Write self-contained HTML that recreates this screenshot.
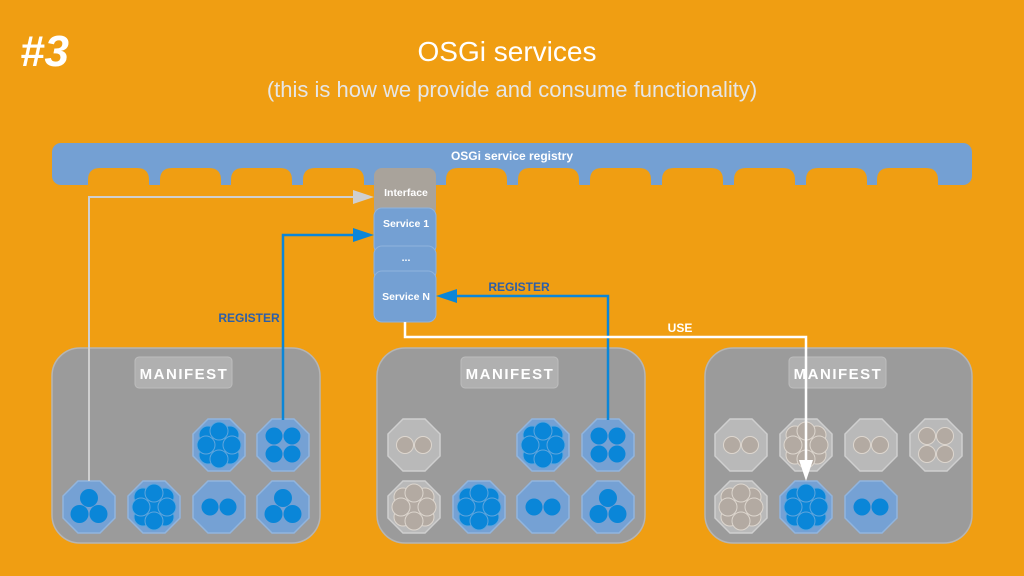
<!DOCTYPE html>
<html><head><meta charset="utf-8"><style>
html,body{margin:0;padding:0;background:#F09E12;}
svg{display:block;}
text{font-family:"Liberation Sans",sans-serif;}
</style></head><body>
<svg width="1024" height="576" viewBox="0 0 1024 576" xmlns="http://www.w3.org/2000/svg">
<defs>
<polygon id="oct" points="-11,-26 11,-26 26,-11 26,11 11,26 -11,26 -26,11 -26,-11"/>
<g id="ob"><use href="#oct" fill="#75A1D4" stroke="#92B5DE" stroke-width="1.5"/></g>
<g id="og"><use href="#oct" fill="#B9B9B9" stroke="#CFCFCF" stroke-width="1.5"/></g>
<g id="d2"><circle cx="-9" cy="0" r="8.5"/><circle cx="9" cy="0" r="8.5"/></g>
<g id="d3"><circle cx="0" cy="-9" r="9"/><circle cx="-9.5" cy="7" r="9"/><circle cx="9.5" cy="7" r="9"/></g>
<g id="d4"><circle cx="-9" cy="-9" r="8.5"/><circle cx="9" cy="-9" r="8.5"/><circle cx="-9" cy="9" r="8.5"/><circle cx="9" cy="9" r="8.5"/></g>
<g id="dc"><circle cx="-11" cy="-10" r="9"/><circle cx="11" cy="-10" r="9"/><circle cx="-11" cy="10" r="9"/><circle cx="11" cy="10" r="9"/><circle cx="0" cy="0" r="9"/><circle cx="-13" cy="0" r="9"/><circle cx="13" cy="0" r="9"/><circle cx="0" cy="-14" r="9"/><circle cx="0" cy="14" r="9"/></g>
</defs>

<text x="20" y="66" font-size="44" font-weight="bold" font-style="italic" fill="#fff">#3</text>
<text x="507" y="61" font-size="28" fill="#fff" text-anchor="middle">OSGi services</text>
<text x="512" y="97" font-size="22" fill="#E6E6E6" text-anchor="middle">(this is how we provide and consume functionality)</text>

<rect x="52" y="143" width="920" height="42" rx="9" fill="#74A0D3"/>
<g fill="#F09E12">
<path d="M88,185 V180 Q88,168 100,168 H137 Q149,168 149,180 V185Z"/>
<path d="M160,185 V180 Q160,168 172,168 H209 Q221,168 221,180 V185Z"/>
<path d="M231,185 V180 Q231,168 243,168 H280 Q292,168 292,180 V185Z"/>
<path d="M303,185 V180 Q303,168 315,168 H352 Q364,168 364,180 V185Z"/>
<path d="M446,185 V180 Q446,168 458,168 H495 Q507,168 507,180 V185Z"/>
<path d="M518,185 V180 Q518,168 530,168 H567 Q579,168 579,180 V185Z"/>
<path d="M590,185 V180 Q590,168 602,168 H639 Q651,168 651,180 V185Z"/>
<path d="M662,185 V180 Q662,168 674,168 H711 Q723,168 723,180 V185Z"/>
<path d="M734,185 V180 Q734,168 746,168 H783 Q795,168 795,180 V185Z"/>
<path d="M806,185 V180 Q806,168 818,168 H855 Q867,168 867,180 V185Z"/>
<path d="M877,185 V180 Q877,168 889,168 H926 Q938,168 938,180 V185Z"/>
</g>
<text x="512" y="160" font-size="12" font-weight="bold" fill="#fff" text-anchor="middle">OSGi service registry</text>

<rect x="374" y="168" width="62" height="48" rx="8" fill="#A9A39B"/>
<rect x="374" y="208" width="62" height="46" rx="8" fill="#74A0D3" stroke="#8FB3DD"/>
<rect x="374" y="246" width="62" height="34" rx="8" fill="#74A0D3" stroke="#8FB3DD"/>
<rect x="374" y="271" width="62" height="51" rx="8" fill="#74A0D3" stroke="#8FB3DD"/>
<g font-size="10.5" fill="#fff" text-anchor="middle" font-weight="bold">
<text x="406" y="196">Interface</text>
<text x="406" y="227">Service 1</text>
<text x="406" y="261">...</text>
<text x="406" y="300">Service N</text>
</g>

<g fill="#9B9B9B" stroke="#B5B5B5" stroke-width="1.5">
<rect x="52" y="348" width="268" height="195" rx="28"/>
<rect x="377" y="348" width="268" height="195" rx="28"/>
<rect x="705" y="348" width="267" height="195" rx="28"/>
</g>
<g fill="#B0B0B0" stroke="#BDBDBD">
<rect x="135" y="357" width="97" height="31" rx="4"/>
<rect x="461" y="357" width="97" height="31" rx="4"/>
<rect x="789" y="357" width="97" height="31" rx="4"/>
</g>
<g font-size="15" font-weight="bold" fill="#fff" text-anchor="middle" letter-spacing="1.5">
<text x="184" y="379">MANIFEST</text>
<text x="510" y="379">MANIFEST</text>
<text x="838" y="379">MANIFEST</text>
</g>

<g transform="translate(219,445)"><use href="#ob"/><use href="#dc" fill="#0A86D8" stroke="#5FA5DD"/></g>
<g transform="translate(283,445)"><use href="#ob"/><use href="#d4" fill="#0A86D8"/></g>
<g transform="translate(89,507)"><use href="#ob"/><use href="#d3" fill="#0A86D8"/></g>
<g transform="translate(154,507)"><use href="#ob"/><use href="#dc" fill="#0A86D8" stroke="#5FA5DD"/></g>
<g transform="translate(219,507)"><use href="#ob"/><use href="#d2" fill="#0A86D8"/></g>
<g transform="translate(283,507)"><use href="#ob"/><use href="#d3" fill="#0A86D8"/></g>

<g transform="translate(414,445)"><use href="#og"/><use href="#d2" fill="#B3AAA2" stroke="#DDD6CE"/></g>
<g transform="translate(543,445)"><use href="#ob"/><use href="#dc" fill="#0A86D8" stroke="#5FA5DD"/></g>
<g transform="translate(608,445)"><use href="#ob"/><use href="#d4" fill="#0A86D8"/></g>
<g transform="translate(414,507)"><use href="#og"/><use href="#dc" fill="#B3AAA2" stroke="#DDD6CE"/></g>
<g transform="translate(479,507)"><use href="#ob"/><use href="#dc" fill="#0A86D8" stroke="#5FA5DD"/></g>
<g transform="translate(543,507)"><use href="#ob"/><use href="#d2" fill="#0A86D8"/></g>
<g transform="translate(608,507)"><use href="#ob"/><use href="#d3" fill="#0A86D8"/></g>

<g transform="translate(741,445)"><use href="#og"/><use href="#d2" fill="#B3AAA2" stroke="#DDD6CE"/></g>
<g transform="translate(806,445)"><use href="#og"/><use href="#dc" fill="#B3AAA2" stroke="#DDD6CE"/></g>
<g transform="translate(871,445)"><use href="#og"/><use href="#d2" fill="#B3AAA2" stroke="#DDD6CE"/></g>
<g transform="translate(936,445)"><use href="#og"/><use href="#d4" fill="#B3AAA2" stroke="#DDD6CE"/></g>
<g transform="translate(741,507)"><use href="#og"/><use href="#dc" fill="#B3AAA2" stroke="#DDD6CE"/></g>
<g transform="translate(806,507)"><use href="#ob"/><use href="#dc" fill="#0A86D8" stroke="#5FA5DD"/></g>
<g transform="translate(871,507)"><use href="#ob"/><use href="#d2" fill="#0A86D8"/></g>

<polyline points="89,481 89,197 360,197" fill="none" stroke="#CFCFCF" stroke-width="2"/>
<polygon points="374,197 353,190 353,204" fill="#CFCFCF"/>
<polyline points="283,420 283,235 360,235" fill="none" stroke="#0A86D8" stroke-width="2.5"/>
<polygon points="374,235 353,228 353,242" fill="#0A86D8"/>
<polyline points="608,420 608,296 450,296" fill="none" stroke="#0A86D8" stroke-width="2.5"/>
<polygon points="436,296 457,289 457,303" fill="#0A86D8"/>
<polyline points="405,322 405,337 806,337 806,465" fill="none" stroke="#fff" stroke-width="2.5"/>
<polygon points="806,481 799,460 813,460" fill="#fff"/>

<g font-size="12" font-weight="bold">
<text x="249" y="322" fill="#2D5FA8" text-anchor="middle">REGISTER</text>
<text x="519" y="291" fill="#2D5FA8" text-anchor="middle">REGISTER</text>
<text x="680" y="332" fill="#fff" text-anchor="middle">USE</text>
</g>
</svg>
</body></html>
